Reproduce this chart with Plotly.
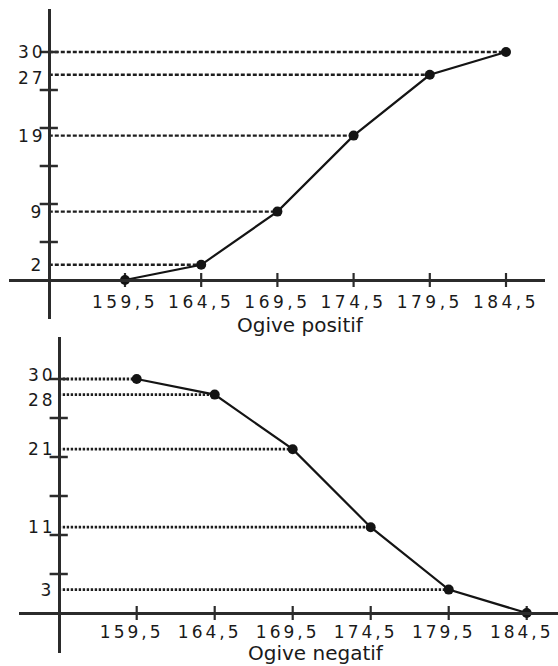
import plotly.graph_objects as go

# ---------------- data ----------------
x_origin = 154.5                      # where the two axes cross (class lower limit)
boundaries = [159.5, 164.5, 169.5, 174.5, 179.5, 184.5]
tick_text = ["159,5", "164,5", "169,5", "174,5", "179,5", "184,5"]
cum_less = [0, 2, 9, 19, 27, 30]      # ogive positif (cumulative "less than")
cum_more = [30, 28, 21, 11, 3, 0]     # ogive negatif (cumulative "more than")
y_tick_marks = [5, 10, 15, 20, 25, 30]
title_top = "Ogive positif"
title_bottom = "Ogive negatif"

# ---------------- layout constants ----------------
W, H = 558, 666
FONT = "DejaVu Sans"
AX_COL = "#2b2b2b"
INK = "#141414"
TXT = "#1a1a1a"

# top panel
top_xdom = [9 / W, 545 / W]
top_ydom = [1 - 319 / H, 1 - 9 / H]
top_xr = [151.889, 187.059]
top_yr = [-5.132, 35.658]
# bottom panel
bot_xdom = [19 / W, 1.0]
bot_ydom = [1 - 653 / H, 1 - 337 / H]
bot_xr = [151.955, 186.506]
bot_yr = [-5.128, 35.385]

# small vertical nudges (pixels) of some value labels, to keep them apart
top_label_shift = {27: -3}
bot_label_shift = {30: 4, 28: -5}


def frac(v, rng, dom):
    return dom[0] + (v - rng[0]) / (rng[1] - rng[0]) * (dom[1] - dom[0])


def guides(xs, ys):
    gx, gy = [], []
    for x, y in zip(xs, ys):
        if y > 0:
            gx += [x_origin, x, None]
            gy += [y, y, None]
    return gx, gy


fig = go.Figure()
annotations = []


def add_panel(xa, ya, values, dash, gwidth, shifts):
    gx, gy = guides(boundaries, values)
    fig.add_trace(go.Scatter(x=gx, y=gy, mode="lines", xaxis=xa, yaxis=ya,
                             line=dict(color="#1e1e1e", width=gwidth, dash=dash),
                             hoverinfo="skip", showlegend=False))
    # tick marks on the x axis
    fig.add_trace(go.Scatter(x=boundaries, y=[0] * len(boundaries), mode="markers",
                             xaxis=xa, yaxis=ya, hoverinfo="skip", showlegend=False,
                             marker=dict(symbol="line-ns", size=10,
                                         line=dict(color=AX_COL, width=2.2))))
    # tick marks on the y axis
    fig.add_trace(go.Scatter(x=[x_origin] * len(y_tick_marks), y=y_tick_marks,
                             mode="markers", xaxis=xa, yaxis=ya, hoverinfo="skip",
                             showlegend=False,
                             marker=dict(symbol="line-ew", size=13,
                                         line=dict(color=AX_COL, width=2.5))))
    # the ogive
    fig.add_trace(go.Scatter(x=boundaries, y=values, mode="lines+markers",
                             xaxis=xa, yaxis=ya, showlegend=False, cliponaxis=False,
                             line=dict(color=INK, width=2.2),
                             marker=dict(color=INK, size=10)))
    # value labels left of the y axis
    for v in values:
        if v > 0:
            annotations.append(dict(
                text=str(v), xref=xa, yref=ya, x=x_origin, y=v,
                xanchor="right", yanchor="middle", xshift=-4,
                yshift=shifts.get(v, 0), showarrow=False,
                font=dict(family=FONT, size=17, color=TXT)))


add_panel("x", "y", cum_less, "4px,2px", 2.4, top_label_shift)
add_panel("x2", "y2", cum_more, "2.4px,1.6px", 2.8, bot_label_shift)

label_font = dict(family=FONT, size=17, color=TXT)

common_x = dict(anchor="free", showline=True, linewidth=2.6, linecolor=AX_COL,
                showgrid=False, zeroline=False, ticks="", tickmode="array",
                tickvals=boundaries, ticktext=tick_text, tickfont=label_font,
                ticklabelstandoff=6, fixedrange=True)
common_y = dict(anchor="free", showline=True, linewidth=2.6, linecolor=AX_COL,
                showgrid=False, zeroline=False, ticks="", showticklabels=False,
                fixedrange=True)

annotations += [
    dict(text=title_top, xref="x", yref="paper", x=171.0, y=1 - 325 / H,
         xanchor="center", yanchor="middle", showarrow=False,
         font=dict(family=FONT, size=20, color=TXT)),
    dict(text=title_bottom, xref="x2", yref="paper", x=171.0, y=0,
         xanchor="center", yanchor="bottom", showarrow=False, borderpad=0,
         font=dict(family=FONT, size=20, color=TXT)),
]

fig.update_layout(
    width=W, height=H,
    margin=dict(l=0, r=0, t=0, b=0, autoexpand=False),
    paper_bgcolor="white", plot_bgcolor="white",
    showlegend=False,
    xaxis=dict(common_x, domain=top_xdom, range=top_xr,
               position=frac(0, top_yr, top_ydom)),
    yaxis=dict(common_y, domain=top_ydom, range=top_yr,
               position=frac(x_origin, top_xr, top_xdom)),
    xaxis2=dict(common_x, domain=bot_xdom, range=bot_xr,
                ticklabelstandoff=3, ticklabelshift=-5,
                position=frac(0, bot_yr, bot_ydom)),
    yaxis2=dict(common_y, domain=bot_ydom, range=bot_yr,
                position=frac(x_origin, bot_xr, bot_xdom)),
    annotations=annotations,
)

post = """
document.body.style.margin = '0';
document.body.style.overflow = 'hidden';
var gd = document.getElementById('{plot_id}');
gd.querySelectorAll('.xtick text').forEach(function (t) {
    t.style.letterSpacing = '3.5px';
});
gd.querySelectorAll('.x2tick text').forEach(function (t) {
    t.style.letterSpacing = '3px';
});
gd.querySelectorAll('.annotation-text').forEach(function (t) {
    if (/^[0-9]+$/.test(t.textContent)) { t.style.letterSpacing = '3px'; }
});
"""

fig.write_html("out.html", config=dict(displayModeBar=False), post_script=post)
